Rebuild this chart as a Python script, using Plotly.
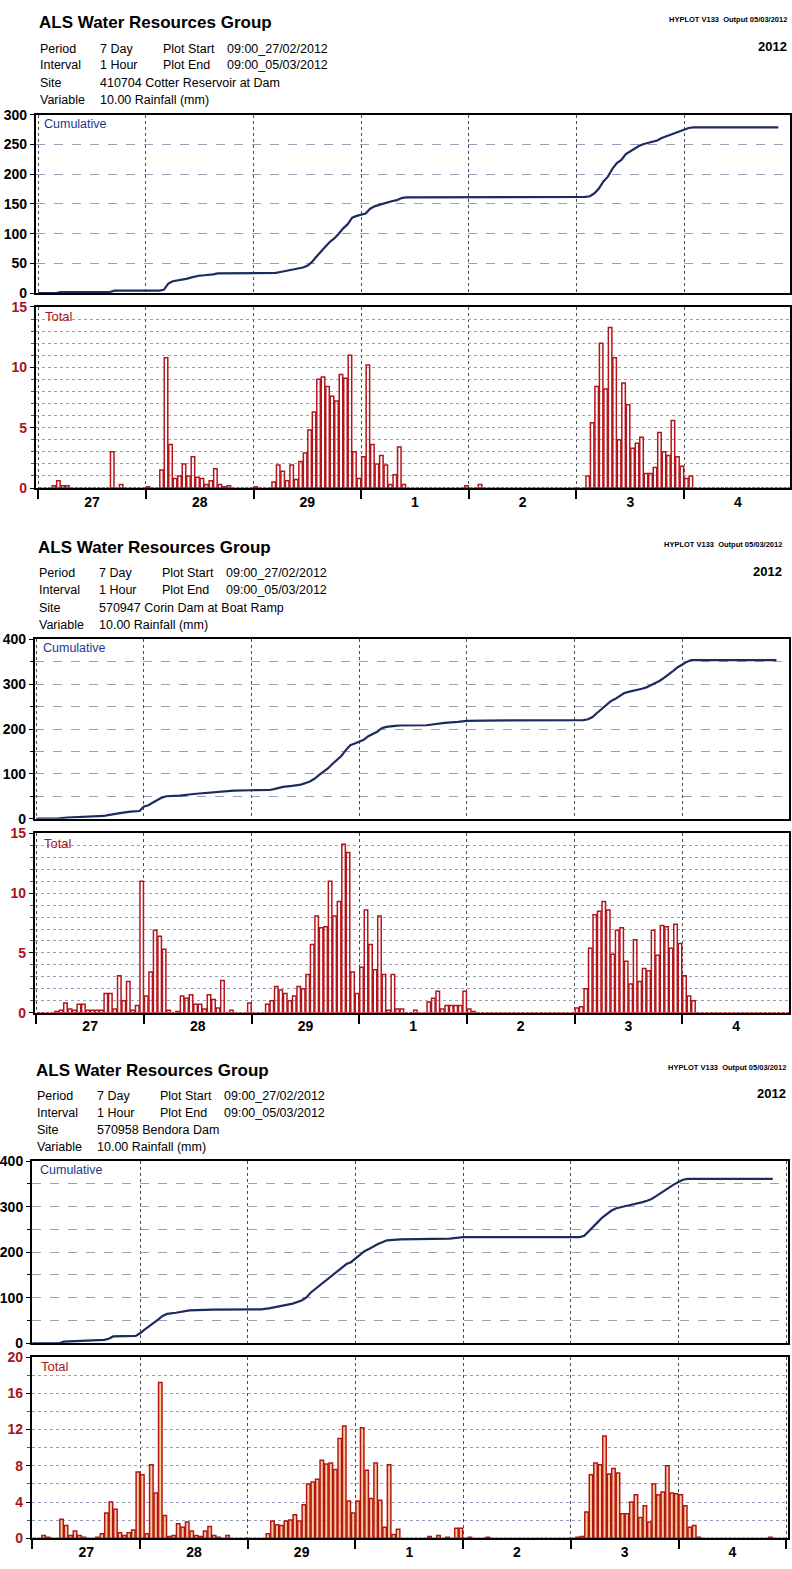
import plotly.graph_objects as go

# ---------------------------------------------------------------------------
# Hourly rainfall totals (mm), 09:00 27/02/2012 -> 09:00 05/03/2012, 168 hours
# ---------------------------------------------------------------------------
day_labels = ["27", "28", "29", "1", "2", "3", "4"]

cotter_total = [
    # 27
    0, 0, 0, 0.2, 0.6, 0.2, 0.2, 0, 0, 0, 0, 0, 0, 0, 0, 0, 3.0, 0, 0.3, 0, 0, 0, 0, 0,
    # 28
    0.1, 0, 0, 1.5, 10.8, 3.6, 0.8, 1.0, 2.0, 1.0, 2.6, 0.9, 0.8, 0.3, 0.6, 1.6, 0.3, 0.1, 0.2, 0, 0, 0, 0, 0,
    # 29
    0.1, 0, 0, 0, 0.5, 1.9, 1.4, 0.6, 1.9, 0.7, 2.2, 2.9, 4.8, 6.3, 9.0, 9.2, 8.4, 7.6, 7.2, 9.4, 9.1, 11.0, 3.0, 0.8,
    # 1
    2.6, 10.2, 3.6, 2.0, 2.7, 1.9, 0.3, 1.1, 3.4, 0.3, 0, 0, 0, 0, 0, 0, 0, 0, 0, 0, 0, 0, 0, 0.2,
    # 2
    0, 0, 0.3, 0, 0, 0, 0, 0, 0, 0, 0, 0, 0, 0, 0, 0, 0, 0, 0, 0, 0, 0, 0, 0,
    # 3
    0, 0, 1.0, 5.4, 8.4, 12.0, 8.2, 13.3, 10.8, 4.0, 8.7, 6.9, 3.3, 3.7, 4.2, 1.2, 1.2, 1.7, 4.6, 3.0, 2.7, 5.6, 2.6, 1.8,
    # 4
    0.8, 1.0, 0, 0, 0, 0, 0, 0, 0, 0, 0, 0, 0, 0, 0, 0, 0, 0, 0, 0, 0, 0, 0, 0,
]

corin_total = [
    0, 0, 0, 0, 0.1, 0.2, 0.8, 0.3, 0.2, 0.7, 0.7, 0.2, 0.2, 0.2, 0.2, 1.6, 1.6, 0.3, 3.1, 1.0, 2.6, 0.2, 0.6, 11.0,
    1.4, 3.4, 6.9, 6.4, 5.3, 0.2, 0, 0.1, 1.4, 1.2, 1.5, 0.7, 0.7, 0.3, 1.5, 1.1, 0.4, 2.7, 0, 0.2, 0, 0, 0, 0.8,
    0, 0, 0, 0.7, 1.0, 2.2, 1.9, 1.6, 1.0, 1.4, 2.2, 2.0, 3.2, 5.7, 8.1, 7.1, 7.2, 11.0, 8.1, 9.3, 14.1, 13.4, 3.4, 1.6,
    3.8, 8.6, 5.7, 3.6, 8.1, 3.2, 0.2, 3.2, 0.3, 0.3, 0, 0, 0.2, 0, 0, 0.9, 1.2, 1.8, 0.3, 0.6, 0.6, 0.6, 0.6, 1.8,
    0.3, 0.1, 0, 0, 0, 0, 0, 0, 0, 0, 0, 0, 0, 0, 0, 0, 0, 0, 0, 0, 0, 0, 0, 0,
    0.4, 0.5, 2.0, 5.4, 8.2, 8.5, 9.3, 8.6, 4.9, 6.9, 7.1, 4.3, 2.4, 6.1, 2.6, 3.7, 3.5, 6.9, 4.8, 7.3, 7.2, 5.4, 7.4, 5.8,
    3.1, 1.4, 1.0, 0, 0, 0, 0, 0, 0, 0, 0, 0, 0, 0, 0, 0, 0, 0, 0, 0, 0, 0, 0, 0,
]

bendora_total = [
    0, 0, 0.3, 0.1, 0, 0, 2.1, 1.4, 0.3, 0.8, 0.3, 0.1, 0, 0, 0.1, 0.5, 2.8, 4.0, 3.2, 0.6, 0.3, 0.6, 0.9, 7.3,
    7.0, 0.5, 8.1, 5.0, 17.2, 2.5, 0.2, 0.3, 1.6, 1.2, 1.8, 0.8, 0.3, 0.2, 0.8, 1.3, 0.3, 0.1, 0, 0.3, 0, 0, 0, 0,
    0, 0, 0, 0, 0.5, 1.9, 1.5, 1.4, 1.9, 2.0, 2.6, 1.9, 3.7, 6.0, 6.2, 6.5, 8.6, 8.2, 8.3, 7.6, 11.0, 12.4, 4.1, 2.8,
    4.1, 12.2, 7.5, 4.4, 8.3, 4.2, 1.2, 8.1, 0.4, 1.0, 0, 0, 0, 0, 0, 0, 0.2, 0, 0.3, 0, 0.1, 0, 1.1, 1.1,
    0, 0.1, 0, 0, 0, 0.1, 0, 0, 0, 0, 0, 0, 0, 0, 0, 0, 0, 0, 0, 0, 0, 0, 0, 0,
    0, 0.1, 0.2, 2.9, 7.0, 8.3, 8.1, 11.3, 7.1, 7.7, 7.2, 2.7, 2.7, 4.0, 4.8, 2.3, 3.6, 1.8, 6.0, 4.8, 5.1, 8.0, 5.0, 4.9,
    4.8, 3.6, 1.2, 1.4, 0.1, 0, 0, 0, 0, 0, 0, 0, 0, 0, 0, 0, 0, 0, 0, 0, 0.1, 0, 0, 0,
]

# ---------------------------------------------------------------------------
# Cumulative rainfall (mm) read at hour marks
# ---------------------------------------------------------------------------
cotter_cum_hour = [0, 4, 5, 16, 17, 27, 28, 29, 30, 31, 32, 33, 34, 35, 36, 37, 38, 39, 40, 52, 53, 54, 56, 58,
                   59, 60, 61, 62, 63, 64, 65, 66, 67, 68, 69, 70, 71, 72, 73, 74, 75, 76, 77, 78, 79, 80, 81,
                   82, 98, 99, 122, 123, 124, 125, 126, 127, 128, 129, 130, 131, 132, 133, 134, 135, 136, 137,
                   138, 139, 140, 141, 142, 143, 144, 145, 146, 165]
cotter_cum_value = [0, 0, 1.7, 1.7, 4, 4, 5.5, 16, 20, 21, 22.5, 24, 26, 28, 29.5, 30, 30.5, 31.5, 33, 33.3, 34,
                    35.5, 38, 41, 43, 46, 52, 61, 70, 78, 86, 92, 100, 109, 116, 127, 130, 131.5, 134, 142, 146,
                    148.5, 151, 153, 155, 156.5, 160, 161, 161, 162, 162, 163, 168, 176, 188, 196, 209, 219, 224,
                    234, 239, 243, 248, 251, 253, 255, 257, 261, 264, 267, 270, 273, 275, 278, 279, 279]

corin_cum_hour = [0, 5, 7, 13, 15, 16, 17, 19, 21, 23, 24, 25, 26, 27, 28, 29, 32, 35, 38, 41, 42, 44, 48, 52,
                  53, 55, 57, 59, 61, 62, 63, 64, 65, 66, 67, 68, 69, 70, 71, 72, 73, 74, 75, 76, 77, 78, 80,
                  81, 87, 89, 91, 94, 96, 100, 120, 122, 123, 124, 125, 126, 127, 128, 129, 130, 131, 132, 133,
                  134, 135, 136, 137, 138, 139, 140, 141, 142, 143, 144, 145, 146, 165]
corin_cum_value = [0, 0.5, 2.5, 4.4, 6, 8, 10, 13, 15.5, 17, 27, 30, 36, 42, 47, 50, 51.6, 55, 57.5, 60, 62,
                   62.6, 63.4, 64, 66, 71, 73, 76, 83, 89, 97, 104, 112, 122, 130, 140, 153, 164, 168, 172, 176,
                   184, 189, 194, 202, 205, 207, 208, 208.5, 211, 214, 216, 218.5, 219, 219.5, 220, 222, 227,
                   236, 245, 254, 262, 267, 273, 280, 283, 285, 288, 290, 293, 298, 303, 308, 315, 322, 330,
                   338, 345, 350, 354, 354]

bendora_cum_hour = [0, 6, 7, 16, 17, 18, 23, 24, 25, 26, 27, 28, 29, 30, 32, 35, 40, 51, 53, 55, 57, 58, 60,
                    61, 62, 63, 64, 65, 66, 67, 68, 69, 70, 71, 72, 73, 74, 75, 76, 77, 78, 79, 82, 88, 93, 95,
                    96, 122, 123, 124, 125, 126, 127, 128, 129, 130, 131, 132, 133, 134, 135, 136, 137, 138, 139,
                    140, 141, 142, 143, 144, 145, 146, 165]
bendora_cum_value = [0, 0, 3.7, 7.4, 10, 15, 16, 22, 30, 37, 44, 52, 60, 64.5, 67, 72, 74, 74.5, 77, 81, 84, 87,
                     94, 100, 111, 119, 127, 134, 142, 151, 160, 168, 174, 178, 186, 195, 202, 207, 213, 218, 222,
                     226, 228, 228.5, 229.6, 232, 233, 233, 236, 246, 255, 266, 276, 284, 291, 296, 299, 301, 303,
                     305, 307, 310, 313, 317, 323, 330, 337, 343, 349, 354, 359, 361, 361]

# ---------------------------------------------------------------------------
# Page geometry (pixels on a 792 x 1569 page)
# ---------------------------------------------------------------------------
W, H = 792, 1569


def fx(p):
    return p / W


def fy(p):
    return 1 - p / H


panels = [
    dict(site="410704 Cotter Reservoir at Dam", total=cotter_total,
         cum_h=cotter_cum_hour, cum_v=cotter_cum_value,
         left=35, right=790, xr=[-0.5, 167.6],
         head=15, cum_top=108, cum_bot=288, tot_top=302, tot_bot=485,
         cum_max=300, cum_dtick=50, cum_minor=None,
         tot_max=15, tot_dtick=5, tot_minor=1,
         bar_fill="rgba(255,255,255,0)", hyplot_right=789, text_left=36),
    dict(site="570947 Corin Dam at Boat Ramp", total=corin_total,
         cum_h=corin_cum_hour, cum_v=corin_cum_value,
         left=34, right=789, xr=[-0.3, 167.8],
         head=545, cum_top=638, cum_bot=819, tot_top=834, tot_bot=1015,
         cum_max=400, cum_dtick=100, cum_minor=50,
         tot_max=15, tot_dtick=5, tot_minor=1,
         bar_fill="rgba(255,255,255,0)", hyplot_right=784, text_left=35),
    dict(site="570958 Bendora Dam", total=bendora_total,
         cum_h=bendora_cum_hour, cum_v=bendora_cum_value,
         left=31, right=788, xr=[-0.1, 168.4],
         head=1073, cum_top=1165, cum_bot=1349, tot_top=1363, tot_bot=1546,
         cum_max=400, cum_dtick=100, cum_minor=50,
         tot_max=20, tot_dtick=4, tot_minor=2,
         bar_fill="rgba(244,190,110,0.75)", hyplot_right=788, text_left=33),
]

LINE_BLUE = "#1d2b5e"
BAR_RED = "#b5141b"
LABEL_RED = "#a8141a"
GRID_H = "#9aa0bb"
GRID_V = "#4a4a55"
FONT = "Liberation Sans, Arial, sans-serif"

fig = go.Figure()
layout = dict(
    width=W, height=H,
    margin=dict(l=0, r=0, t=0, b=0),
    paper_bgcolor="white", plot_bgcolor="white",
    showlegend=False,
    font=dict(family=FONT, color="black"),
)
annotations = []

day_centres = [12 + 24 * d for d in range(7)]
hours = [h + 0.5 for h in range(168)]

for k, p in enumerate(panels):
    ic = 2 * k + 1      # cumulative axis index
    it = 2 * k + 2      # total axis index
    xc, yc = f"x{ic}", f"y{ic}"
    xt, yt = f"x{it}", f"y{it}"
    xdom = [fx(p["left"]), fx(p["right"])]

    fig.add_trace(go.Scatter(
        x=p["cum_h"], y=p["cum_v"], mode="lines",
        line=dict(color=LINE_BLUE, width=2.2),
        xaxis=xc, yaxis=yc, hoverinfo="skip"))

    fig.add_trace(go.Bar(
        x=hours, y=p["total"], width=0.78,
        marker=dict(color=p["bar_fill"], line=dict(color=BAR_RED, width=1.5)),
        xaxis=xt, yaxis=yt, hoverinfo="skip"))

    frame = dict(showline=True, linewidth=2, linecolor="black", mirror=True, zeroline=False)

    layout[f"xaxis{ic}"] = dict(
        domain=xdom, range=p["xr"], anchor=yc, showticklabels=False, ticks="",
        tickmode="linear", tick0=0, dtick=24,
        showgrid=True, gridcolor=GRID_V, griddash="dot", gridwidth=1, **frame)

    cum_y = dict(
        domain=[fy(p["cum_bot"]), fy(p["cum_top"])], range=[0, p["cum_max"]], anchor=xc,
        tickmode="linear", tick0=0, dtick=p["cum_dtick"],
        ticks="outside", ticklen=4, tickcolor="black", tickwidth=1,
        tickfont=dict(size=14, color="black", family=FONT, weight="bold"),
        showgrid=True, gridcolor=GRID_H, griddash="dash", gridwidth=1, **frame)
    if p["cum_minor"]:
        cum_y["minor"] = dict(dtick=p["cum_minor"], tick0=0, showgrid=True, gridcolor=GRID_H,
                              griddash="dash", gridwidth=1, ticks="outside", ticklen=3,
                              tickcolor="black")
    layout[f"yaxis{ic}"] = cum_y

    layout[f"xaxis{it}"] = dict(
        domain=xdom, range=p["xr"], anchor=yt,
        tickmode="array", tickvals=day_centres, ticktext=day_labels, ticks="",
        tickfont=dict(size=14, color="black", family=FONT, weight="bold"),
        showgrid=False,
        minor=dict(tick0=0, dtick=24, showgrid=True, gridcolor=GRID_V, griddash="dot",
                   gridwidth=1, ticks="outside", ticklen=9, tickwidth=2, tickcolor="black"),
        **frame)

    layout[f"yaxis{it}"] = dict(
        domain=[fy(p["tot_bot"]), fy(p["tot_top"])], range=[0, p["tot_max"]], anchor=xt,
        tickmode="linear", tick0=0, dtick=p["tot_dtick"],
        ticks="outside", ticklen=4, tickcolor="black", tickwidth=1,
        tickfont=dict(size=14, color=LABEL_RED, family=FONT, weight="bold"),
        showgrid=True, gridcolor=GRID_H, griddash="dot", gridwidth=1,
        minor=dict(dtick=p["tot_minor"], tick0=0, showgrid=True, gridcolor=GRID_H,
                   griddash="dot", gridwidth=1, ticks="outside", ticklen=3, tickcolor="#555"),
        **frame)

    # in-plot captions
    annotations.append(dict(text="Cumulative", x=fx(p["left"] + 6), y=fy(p["cum_top"] + 9),
                            xref="paper", yref="paper", xanchor="left", yanchor="middle",
                            showarrow=False, font=dict(size=12.5, color="#1b3a8c", family=FONT)))
    annotations.append(dict(text="Total", x=fx(p["left"] + 7), y=fy(p["tot_top"] + 10),
                            xref="paper", yref="paper", xanchor="left", yanchor="middle",
                            showarrow=False, font=dict(size=13, color=LABEL_RED, family=FONT)))

    # header block
    top = p["head"]
    tl = p["text_left"]
    annotations.append(dict(text="<b>ALS Water Resources Group</b>", x=fx(tl), y=fy(top),
                            xref="paper", yref="paper", xanchor="left", yanchor="middle",
                            showarrow=False, font=dict(size=17, family=FONT)))
    rows = [
        ("Period", "7 Day", "Plot Start", "09:00_27/02/2012"),
        ("Interval", "1 Hour", "Plot End", "09:00_05/03/2012"),
        ("Site", p["site"], None, None),
        ("Variable", "10.00 Rainfall (mm)", None, None),
    ]
    row_offsets = [26, 43, 61, 78]
    for (a, b, c, d), dy in zip(rows, row_offsets):
        yy = fy(top + dy)
        for txt, xx in ((a, tl + 1), (b, tl + 61), (c, tl + 124), (d, tl + 188)):
            if txt is None:
                continue
            annotations.append(dict(text=txt, x=fx(xx), y=yy, xref="paper", yref="paper",
                                    xanchor="left", yanchor="middle", showarrow=False,
                                    font=dict(size=12.5, family=FONT)))
    annotations.append(dict(text="<b>HYPLOT V133  Output 05/03/2012</b>", x=fx(p["hyplot_right"]),
                            y=fy(top - 3), xref="paper", yref="paper", xanchor="right",
                            yanchor="middle", showarrow=False, font=dict(size=7.5, family=FONT)))
    annotations.append(dict(text="<b>2012</b>", x=fx(p["hyplot_right"]), y=fy(top + 24),
                            xref="paper", yref="paper", xanchor="right", yanchor="middle",
                            showarrow=False, font=dict(size=13, family=FONT)))

layout["annotations"] = annotations
fig.update_layout(**layout)
fig.write_html("out.html")
